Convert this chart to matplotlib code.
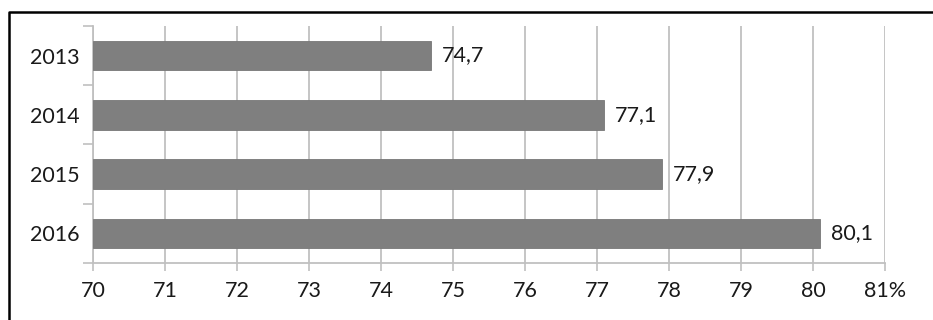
import matplotlib
matplotlib.use('Agg')
import matplotlib.pyplot as plt
from matplotlib.lines import Line2D
import numpy as np

years = ['2013', '2014', '2015', '2016']
values = [74.7, 77.1, 77.9, 80.1]
value_labels = ['74,7', '77,1', '77,9', '80,1']
xticks = list(range(70, 82))
xtick_labels = [str(t) for t in xticks[:-1]] + ['81%']

plt.rcParams['font.family'] = ['Lato', 'DejaVu Sans']

fig = plt.figure(figsize=(9.33, 3.2), dpi=100)
ax = fig.add_axes([0.0997, 0.178, 0.8489, 0.741])

grid_c = '#c0c0c0'
txt_c = '#1a1a1a'
fs = 15.5
y = np.arange(len(years))
ax.barh(y, [v - 70 for v in values], left=70, height=0.5, color='#7f7f7f',
        edgecolor='#777777', linewidth=0.6, zorder=3)
for yi, v, lab in zip(y, values, value_labels):
  ax.text(v + 0.15, yi, lab, va='center', ha='left', fontsize=fs, color=txt_c)

ax.set_xlim(70, 81)
ax.set_ylim(len(years) - 0.5, -0.5)
ax.set_xticks(xticks)
ax.set_xticklabels(xtick_labels, fontsize=fs, color=txt_c)
ax.set_yticks(y)
ax.set_yticklabels(years, fontsize=fs, color=txt_c)
ax.set_yticks(np.arange(-0.5, len(years)), minor=True)
ax.tick_params(axis='y', which='major', length=0, pad=10)
ax.tick_params(axis='y', which='minor', length=7, width=1.2, color=grid_c)
ax.tick_params(axis='x', length=6, width=1.2, color=grid_c, pad=7)
ax.grid(axis='x', color=grid_c, linewidth=1.3, zorder=0)
ax.set_axisbelow(True)
for s in ['top', 'right']:
  ax.spines[s].set_visible(False)
for s in ['left', 'bottom']:
  ax.spines[s].set_color(grid_c)
  ax.spines[s].set_linewidth(1.3)

# outer frame (left and top only, the rest is cropped)
bx = 9 / 933.0
by = 1 - 12 / 320.0
fig.add_artist(Line2D([bx, bx, 1.0], [0.0, by, by], color='black', linewidth=1.8,
                      transform=fig.transFigure))

fig.savefig('out.png', dpi=100)
